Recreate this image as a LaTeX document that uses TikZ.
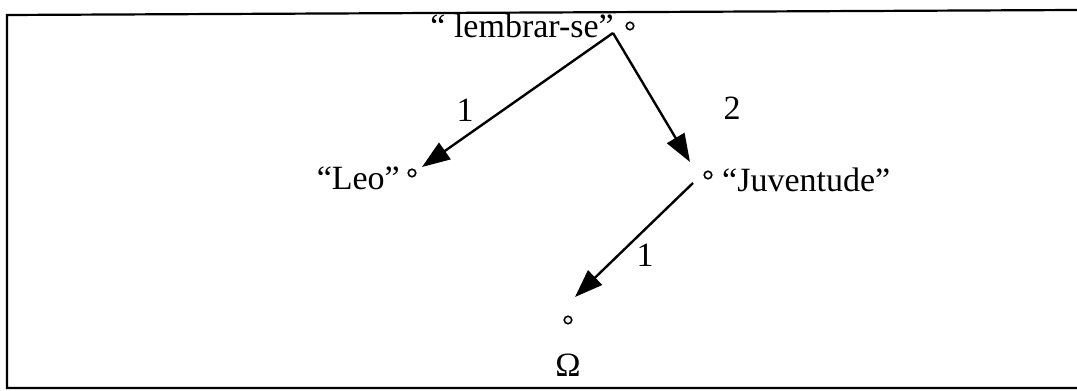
\documentclass[tikz,border=0pt]{standalone}
\usepackage{fontspec}
\setmainfont{Liberation Serif}
\usetikzlibrary{arrows.meta}
\begin{document}
\begin{tikzpicture}[x=1pt,y=1pt,
  lbl/.style={inner sep=0pt,font=\fontsize{34}{40}\selectfont},
  pt/.style={circle,draw,line width=1.6pt,minimum size=7.5pt,inner sep=0pt},
  arr/.style={line width=2.4pt,-{Triangle[length=28pt,width=20pt]}}]
\useasboundingbox (0,0) rectangle (1077,391);
% frame
\coordinate (f1) at (1077,381);
\coordinate (f2) at (7,376);
\coordinate (f3) at (7,3);
\coordinate (f4) at (1077,3);
\draw[line width=2.2pt] (f1) -- (f2) -- (f3) -- (f4);
% points
\coordinate (apex) at (613,358);
\coordinate (leotip) at (422,224);
\coordinate (juvtip) at (690,229);
\coordinate (juvstart) at (693,208);
\coordinate (omtip) at (575,94);
\node[pt] (ptop) at (630,365) {};
\node[pt] (pleo) at (412,218) {};
\node[pt] (pjuv) at (708,216) {};
\node[pt] (pom) at (568,71) {};
% texts
\node[lbl,anchor=base east] (tlem) at (614,353) {“ lembrar-se”};
\node[lbl,anchor=base east] (tleo) at (400,201) {“Leo”};
\node[lbl,anchor=base west] (tjuv) at (722,199) {“Juventude”};
\node[lbl,anchor=base] (tom) at (568,14) {Ω};
\node[lbl] (l1) at (465,281) {1};
\node[lbl] (l2) at (732,283) {2};
\node[lbl] (l3) at (645,136) {1};
% arrows
\draw[arr] (apex) -- (leotip);
\draw[arr] (apex) -- (juvtip);
\draw[arr] (juvstart) -- (omtip);
\end{tikzpicture}
\end{document}
